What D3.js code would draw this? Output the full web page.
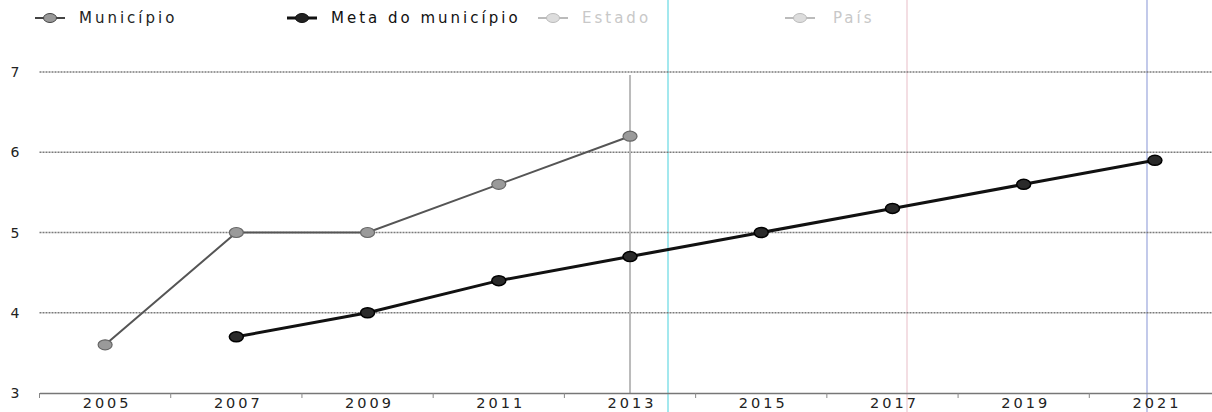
<!DOCTYPE html>
<html>
<head>
<meta charset="utf-8">
<script src="https://cdn.jsdelivr.net/npm/d3@7"></script>
<style>
  html, body { margin: 0; padding: 0; background: #fff; }
  svg { display: block; font-family: "DejaVu Sans", Verdana, sans-serif; }
</style>
</head>
<body>
<svg id="chart" width="1212" height="412"></svg>
<script>
// ---- data ----
const years = [2005, 2007, 2009, 2011, 2013, 2015, 2017, 2019, 2021];
const municipioYears = [2005, 2007, 2009, 2011, 2013];
const municipioValues = [3.6, 5.0, 5.0, 5.6, 6.2];
const metaYears = [2007, 2009, 2011, 2013, 2015, 2017, 2019, 2021];
const metaValues = [3.7, 4.0, 4.4, 4.7, 5.0, 5.3, 5.6, 5.9];
const yTicks = [3, 4, 5, 6, 7];
const minorTicks = [2004, 2006, 2008, 2010, 2012, 2014, 2016, 2018, 2020];
const legendItems = ["Município", "Meta do município", "Estado", "País"];

const svg = d3.select("#chart");
const x = d3.scaleLinear().domain([2004, 2021.87]).range([39.5, 1212]);
const y = d3.scaleLinear().domain([3, 7]).range([393, 72]);

// scan-like vertical lines
svg.append("line").attr("x1", 668).attr("x2", 668).attr("y1", 0).attr("y2", 412)
  .attr("stroke", "#84e0e8").attr("stroke-width", 1.5);
svg.append("line").attr("x1", 907).attr("x2", 907).attr("y1", 0).attr("y2", 412)
  .attr("stroke", "#ecc8d0").attr("stroke-width", 1.2);
svg.append("line").attr("x1", 1147).attr("x2", 1147).attr("y1", 0).attr("y2", 412)
  .attr("stroke", "#9aa6dc").attr("stroke-width", 1.2);

// grid lines
const grid = svg.append("g");
grid.selectAll("line").data(yTicks.filter(d => d > 3)).join("line")
  .attr("x1", x(2004)).attr("x2", 1212)
  .attr("y1", d => y(d)).attr("y2", d => y(d))
  .attr("stroke", "#7a7a7a").attr("stroke-width", 1.3)
  .attr("stroke-dasharray", "2,1");

// y labels
svg.append("g").selectAll("text").data(yTicks).join("text")
  .attr("x", 15).attr("y", d => y(d) + 5)
  .attr("text-anchor", "middle")
  .attr("font-size", 14).attr("fill", "#222")
  .text(d => d);

// crosshair at 2013
svg.append("line").attr("x1", x(2013)).attr("x2", x(2013))
  .attr("y1", y(7) + 3).attr("y2", y(3))
  .attr("stroke", "#bbb").attr("stroke-width", 2);

// x axis
const xAxis = d3.axisBottom(x).tickValues(years).tickSize(0).tickPadding(5)
  .tickFormat(d3.format("d"));
const gx = svg.append("g").attr("transform", `translate(0,${y(3)})`).call(xAxis);
gx.select(".domain").attr("stroke", "#777").attr("stroke-width", 1.5);
gx.selectAll("text").attr("font-size", 14.5).attr("fill", "#222")
  .attr("letter-spacing", "3px").attr("dx", "1.5px")
  .attr("font-family", "DejaVu Sans, Verdana, sans-serif");
svg.append("g").selectAll("line").data(minorTicks).join("line")
  .attr("x1", d => x(d)).attr("x2", d => x(d))
  .attr("y1", y(3)).attr("y2", y(3) + 5)
  .attr("stroke", "#888").attr("stroke-width", 1);

// lines
const mun = municipioYears.map((yr, i) => ({ yr, v: municipioValues[i] }));
const meta = metaYears.map((yr, i) => ({ yr, v: metaValues[i] }));
const line = d3.line().x(d => x(d.yr)).y(d => y(d.v));

svg.append("path").datum(mun).attr("d", line)
  .attr("fill", "none").attr("stroke", "#555").attr("stroke-width", 2);
svg.append("path").datum(meta).attr("d", line)
  .attr("fill", "none").attr("stroke", "#111").attr("stroke-width", 3);

svg.append("g").selectAll("ellipse").data(mun).join("ellipse")
  .attr("cx", d => x(d.yr)).attr("cy", d => y(d.v))
  .attr("rx", 7).attr("ry", 5)
  .attr("fill", "#9a9a9a").attr("stroke", "#666").attr("stroke-width", 1.2);
svg.append("g").selectAll("ellipse").data(meta).join("ellipse")
  .attr("cx", d => x(d.yr)).attr("cy", d => y(d.v))
  .attr("rx", 7).attr("ry", 5)
  .attr("fill", "#2a2a2a").attr("stroke", "#000").attr("stroke-width", 1.5);

// legend
const legendX = [50, 302, 553, 800];
const legendLine = ["#444", "#111", "#bbb", "#bbb"];
const legendFill = ["#999", "#222", "#ddd", "#ddd"];
const legendText = ["#222", "#111", "#c8c8c8", "#c8c8c8"];
const lg = svg.append("g");
legendItems.forEach((name, i) => {
  const cx = legendX[i];
  lg.append("line").attr("x1", cx - 15).attr("x2", cx + 15)
    .attr("y1", 18).attr("y2", 18)
    .attr("stroke", legendLine[i]).attr("stroke-width", i === 1 ? 3 : 2);
  lg.append("ellipse").attr("cx", cx).attr("cy", 18).attr("rx", 6.5).attr("ry", 4.5)
    .attr("fill", legendFill[i]).attr("stroke", legendLine[i]).attr("stroke-width", 1);
  lg.append("text").attr("x", cx + (i === 3 ? 33 : 29)).attr("y", 23)
    .attr("font-size", 15).attr("letter-spacing", "3px")
    .attr("fill", legendText[i]).text(name);
});
</script>
</body>
</html>
